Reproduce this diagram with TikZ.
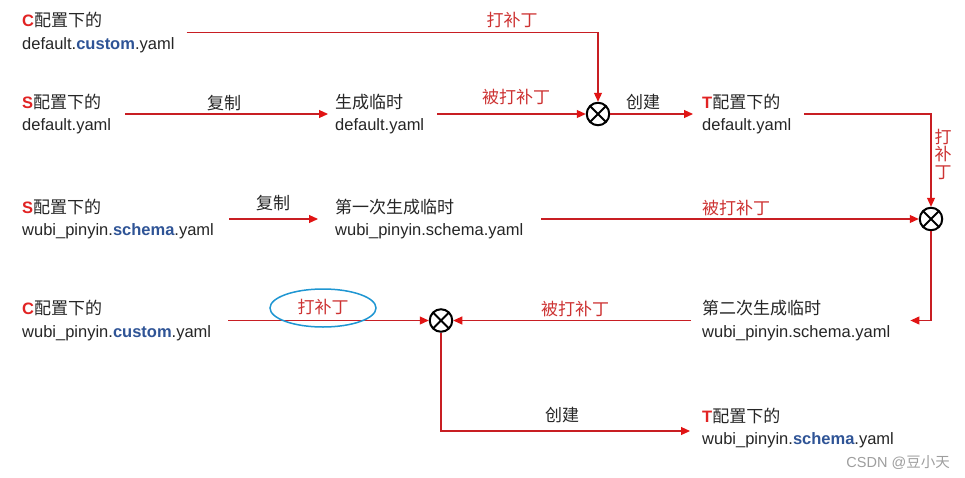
\documentclass[tikz,border=0pt]{standalone}
\usepackage{fontspec}
\setmainfont{Liberation Sans}
\newfontfamily\cjkfont{Noto Sans CJK SC}
\usetikzlibrary{arrows.meta}

\definecolor{flowred}{RGB}{200,30,35}
\definecolor{tipred}{RGB}{225,20,20}
\definecolor{labelred}{RGB}{205,50,50}
\definecolor{keyred}{RGB}{225,35,35}
\definecolor{keyblue}{RGB}{47,84,150}
\definecolor{ringblue}{RGB}{30,150,210}
\definecolor{textgrey}{RGB}{38,38,38}

\newcommand{\zh}[1]{{\cjkfont\fontsize{17}{22.5}\selectfont #1}}
\newcommand{\cfgletter}[1]{\textbf{\textcolor{keyred}{#1}}}
\newcommand{\cfgpart}[1]{\textbf{\textcolor{keyblue}{#1}}}

\begin{document}
\begin{tikzpicture}[x=1pt,y=-1pt,
  every node/.style={font=\fontsize{16.5}{22.5}\selectfont, text=textgrey},
  file/.style={anchor=west, align=left, inner sep=0pt},
  edgelbl/.style={inner sep=0pt, font=\cjkfont\fontsize{17}{22.5}\selectfont},
  patchlbl/.style={edgelbl, text=labelred},
  merge/.style={circle, draw=black, line width=2pt, minimum size=22.5pt, inner sep=0pt,
    path picture={\draw[line width=2pt]
      (path picture bounding box.north west) -- (path picture bounding box.south east)
      (path picture bounding box.north east) -- (path picture bounding box.south west);}},
  flow/.style={draw=flowred, line width=1.1pt, -{Triangle[length=9pt,width=8pt,color=tipred]}}
]
\fill[white] (0,0) rectangle (965,477);
\useasboundingbox (0,0) rectangle (965,477);

% files
\node[file] (C1) at (22,32.5) {\cfgletter{C}\zh{配置下的}\\default.\cfgpart{custom}.yaml};
\node[file] (S1) at (22,114) {\cfgletter{S}\zh{配置下的}\\default.yaml};
\node[file] (tmp1) at (335,114) {\zh{生成临时}\\default.yaml};
\node[file] (T1) at (702,114) {\cfgletter{T}\zh{配置下的}\\default.yaml};
\node[file] (S2) at (22,219) {\cfgletter{S}\zh{配置下的}\\wubi\_pinyin.\cfgpart{schema}.yaml};
\node[file] (tmp2) at (335,219) {\zh{第一次生成临时}\\wubi\_pinyin.schema.yaml};
\node[file] (C2) at (22,320.5) {\cfgletter{C}\zh{配置下的}\\wubi\_pinyin.\cfgpart{custom}.yaml};
\node[file] (tmp3) at (702,320.5) {\zh{第二次生成临时}\\wubi\_pinyin.schema.yaml};
\node[file] (T2) at (702,428) {\cfgletter{T}\zh{配置下的}\\wubi\_pinyin.\cfgpart{schema}.yaml};

% merge points
\node[merge] (X1) at (598,114) {};
\node[merge] (X2) at (931,219) {};
\node[merge] (X3) at (441,320.5) {};

% connectors
\draw[flow] ([xshift=12pt]C1.east) -| (X1.north);
\draw[flow] ([xshift=14pt]S1.east) -- ([xshift=-7pt]tmp1.west);
\draw[flow] ([xshift=13pt]tmp1.east) -- (X1.west);
\draw[flow] (X1.east) -- ([xshift=-9pt]T1.west);
\draw[flow] ([xshift=13pt]T1.east) -| (X2.north);
\draw[flow] ([xshift=15pt]S2.east) -- ([xshift=-17pt]tmp2.west);
\draw[flow] ([xshift=18pt]tmp2.east) -- (X2.west);
\draw[flow] (X2.south) |- ([xshift=20pt]tmp3.east);
\draw[flow] ([xshift=-11pt]tmp3.west) -- (X3.east);
\draw[flow] ([xshift=17pt]C2.east) -- (X3.west);
\draw[flow] (X3.south) |- ([xshift=-12pt,yshift=-3pt]T2.west);

% labels
\node[patchlbl] (lblA) at (512,20) {打补丁};
\node[edgelbl] (lblB) at (224,103) {复制};
\node[patchlbl] (lblC) at (516,97) {被打补丁};
\node[edgelbl] (lblD) at (643,102) {创建};
\node[patchlbl, align=center, font=\cjkfont\fontsize{17}{17.5}\selectfont] (lblE) at (943,154) {打\\补\\丁};
\node[edgelbl] (lblF) at (273,203) {复制};
\node[patchlbl] (lblG) at (736,208) {被打补丁};
\node[patchlbl] (lblH) at (575,309) {被打补丁};
\node[patchlbl] (lblI) at (323,307) {打补丁};
\draw[ringblue, line width=1.5pt] (323,308) ellipse (53 and 19);
\node[edgelbl] (lblJ) at (562,415) {创建};

\node[anchor=east, inner sep=0pt, text=black!38, font=\fontsize{14.5}{14.5}\selectfont] (mark) at (950,463) {CSDN @{\cjkfont 豆小天}};
\end{tikzpicture}
\end{document}
